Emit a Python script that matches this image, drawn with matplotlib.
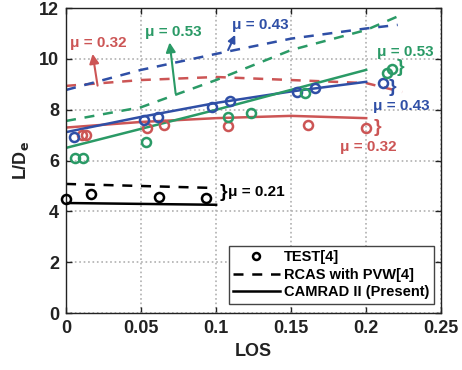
import matplotlib
matplotlib.use("Agg")
import matplotlib.pyplot as plt
import numpy as np
from matplotlib.lines import Line2D

plt.rcParams['font.family'] = ['Liberation Sans', 'DejaVu Sans']
plt.rcParams['font.weight'] = 'bold'

RED = '#cc5555'
BLUE = '#2f4fa6'
GREEN = '#2a9a66'
BLACK = '#000000'

# Test data
test_021_x = [0.0, 0.0167, 0.062, 0.093]
test_021_y = [4.49, 4.69, 4.57, 4.53]
test_032_x = [0.0107, 0.0133, 0.054, 0.065, 0.108, 0.161, 0.200]
test_032_y = [7.00, 7.00, 7.28, 7.40, 7.36, 7.40, 7.30]
test_043_x = [0.0053, 0.052, 0.061, 0.097, 0.109, 0.154, 0.166, 0.211]
test_043_y = [6.93, 7.60, 7.72, 8.11, 8.35, 8.70, 8.86, 9.05]
test_053_x = [0.006, 0.011, 0.053, 0.108, 0.123, 0.159, 0.214, 0.217]
test_053_y = [6.10, 6.10, 6.73, 7.72, 7.87, 8.66, 9.45, 9.62]

# RCAS with PVW (dashed)
rcas_021_x = [0.0, 0.05, 0.1]
rcas_021_y = [5.08, 5.00, 4.92]
rcas_032_x = [0.0, 0.05, 0.1, 0.15, 0.2, 0.224]
rcas_032_y = [8.94, 9.17, 9.29, 9.17, 9.05, 8.70]
rcas_043_x = [0.0, 0.05, 0.1, 0.15, 0.2, 0.221]
rcas_043_y = [8.78, 9.57, 10.20, 10.80, 11.20, 11.34]
rcas_053_x = [0.0, 0.05, 0.1, 0.15, 0.2, 0.224]
rcas_053_y = [7.56, 8.10, 9.17, 10.35, 11.14, 11.75]

# CAMRAD II (solid)
cam_021_x = [0.0, 0.1]
cam_021_y = [4.33, 4.26]
cam_032_x = [0.0, 0.05, 0.1, 0.15, 0.2]
cam_032_y = [7.30, 7.52, 7.67, 7.76, 7.67]
cam_043_x = [0.0, 0.05, 0.1, 0.15, 0.2]
cam_043_y = [7.12, 7.72, 8.27, 8.72, 9.10]
cam_053_x = [0.0, 0.1, 0.2]
cam_053_y = [6.50, 8.00, 9.57]

fig = plt.figure(figsize=(4.62, 3.70), dpi=100)
ax = fig.add_axes([0.143, 0.154, 0.812, 0.824])

lw = 1.8
for x, y, c in [(rcas_021_x, rcas_021_y, BLACK), (rcas_032_x, rcas_032_y, RED),
                (rcas_043_x, rcas_043_y, BLUE), (rcas_053_x, rcas_053_y, GREEN)]:
    ax.plot(x, y, '--', color=c, lw=lw, dashes=(4, 3.5))
for x, y, c in [(cam_021_x, cam_021_y, BLACK), (cam_032_x, cam_032_y, RED),
                (cam_043_x, cam_043_y, BLUE), (cam_053_x, cam_053_y, GREEN)]:
    ax.plot(x, y, '-', color=c, lw=lw)
for x, y, c in [(test_021_x, test_021_y, BLACK), (test_032_x, test_032_y, RED),
                (test_043_x, test_043_y, BLUE), (test_053_x, test_053_y, GREEN)]:
    ax.plot(x, y, 'o', mfc='none', mec=c, mew=1.8, ms=6.5, clip_on=False, zorder=5)

ax.set_xlim(0, 0.25)
ax.set_ylim(0, 12)
ax.set_xticks([0, 0.05, 0.1, 0.15, 0.2, 0.25])
ax.set_xticklabels(['0', '0.05', '0.1', '0.15', '0.2', '0.25'])
ax.set_yticks([0, 2, 4, 6, 8, 10, 12])
ax.tick_params(labelsize=13, direction='in', length=4, width=1, colors='#222222',
               labelcolor='#222222', pad=5, top=True, right=True)
for lab in ax.get_xticklabels() + ax.get_yticklabels():
    lab.set_fontweight('bold')
ax.grid(True, color='#b0b0b0', ls=':', lw=1.2)
ax.set_axisbelow(True)
for s in ax.spines.values():
    s.set_color('#222222')
    s.set_linewidth(1)
ax.set_xlabel('LOS', fontsize=13, fontweight='bold', color='#222222', labelpad=4)
ax.set_ylabel('L/D$_\\mathbf{e}$', fontsize=13, fontweight='bold', color='#222222', labelpad=6)

fs = 11
tk = dict(fontsize=fs, fontweight='bold', ha='center', va='center')
# left annotations with arrows
ax.text(0.0217, 10.63, 'μ = 0.32', color=RED, **tk)
ax.annotate('', xy=(0.0177, 10.20), xytext=(0.021, 8.95),
            arrowprops=dict(arrowstyle='-|>', color=RED, lw=1.5, mutation_scale=14, shrinkA=0, shrinkB=0))
ax.text(0.0717, 11.06, 'μ = 0.53', color=GREEN, **tk)
ax.annotate('', xy=(0.069, 10.65), xytext=(0.073, 8.65),
            arrowprops=dict(arrowstyle='-|>', color=GREEN, lw=1.5, mutation_scale=14, shrinkA=0, shrinkB=0))
ax.text(0.1293, 11.34, 'μ = 0.43', color=BLUE, **tk)
ax.annotate('', xy=(0.1127, 10.95), xytext=(0.108, 10.35),
            arrowprops=dict(arrowstyle='-|>', color=BLUE, lw=1.5, mutation_scale=11, shrinkA=0, shrinkB=0))

# right annotations with braces
bk = dict(fontsize=14, fontweight='bold', ha='center', va='center')
ax.text(0.2263, 10.28, 'μ = 0.53', color=GREEN, **tk)
ax.text(0.2227, 9.65, '}', color=GREEN, **bk)
ax.text(0.2173, 8.86, '}', color=BLUE, **bk)
ax.text(0.2237, 8.15, 'μ = 0.43', color=BLUE, **tk)
ax.text(0.2073, 7.32, '}', color=RED, **bk)
ax.text(0.2017, 6.54, 'μ = 0.32', color=RED, **tk)
ax.text(0.1047, 4.76, '}', color=BLACK, **bk)
ax.text(0.127, 4.76, 'μ = 0.21', color=BLACK, **tk)

# legend
handles = [Line2D([], [], ls='none', marker='o', mfc='none', mec='k', mew=1.8, ms=5),
           Line2D([], [], ls='--', color='k', lw=1.8, dashes=(4, 3.5)),
           Line2D([], [], ls='-', color='k', lw=1.8)]
leg = ax.legend(handles, ['TEST[4]', 'RCAS with PVW[4]', 'CAMRAD II (Present)'],
                loc='lower right', bbox_to_anchor=(0.98, 0.03),
                prop={'weight': 'bold', 'size': 10.5}, frameon=True, fancybox=False,
                edgecolor='#444444', framealpha=1, handlelength=3.2, handletextpad=0.3,
                borderpad=0.3, labelspacing=0.25, borderaxespad=0)
leg.get_frame().set_linewidth(1)

fig.savefig('out.png', dpi=100)
